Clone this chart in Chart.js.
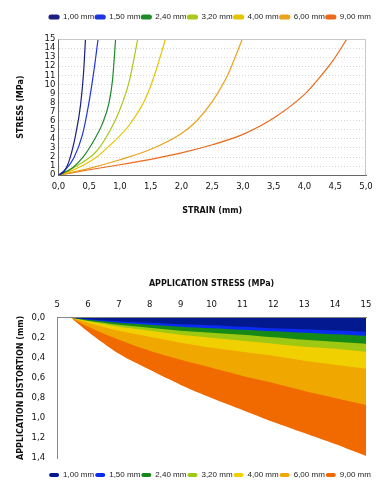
<!DOCTYPE html>
<html>
<head>
<meta charset="utf-8">
<script src="https://cdn.jsdelivr.net/npm/chart.js@4.4.1/dist/chart.umd.min.js"></script>
<style>
  body { margin: 0; background: #fff; width: 387px; height: 495px; overflow: hidden; }
  .box { position: absolute; left: 0; width: 387px; }
  #top { top: 0; height: 226px; }
  #bottom { top: 262px; height: 233px; }
</style>
</head>
<body>
<div class="box" id="top"><canvas id="strainChart"></canvas></div>
<div class="box" id="bottom"><canvas id="distortionChart"></canvas></div>
<script>
const thicknesses = ["1,00 mm", "1,50 mm", "2,40 mm", "3,20 mm", "4,00 mm", "6,00 mm", "9,00 mm"];
const lineColors = ["#1b1f7e", "#1f35e0", "#1e8a2a", "#a9c81a", "#e6c400", "#eba21c", "#ec6a1a"];
const areaColors = ["#03198f", "#0a2cf2", "#158a16", "#9fc812", "#f0d000", "#f0a800", "#f06a00"];

// top chart: stress (MPa) against strain (mm)
const strain100 = [0, 0.09, 0.17, 0.28, 0.36, 0.41, 0.44];
const stress100 = [0, 0.4, 1.5, 4.45, 7.75, 11.4, 15];
const strain150 = [0, 0.11, 0.25, 0.39, 0.49, 0.575, 0.645];
const stress150 = [0, 0.6, 1.9, 4.45, 7.75, 11.4, 15];
const strain240 = [0, 0.22, 0.39, 0.60, 0.71, 0.82, 0.88, 0.93];
const stress240 = [0, 0.77, 1.9, 4.1, 5.6, 7.9, 10.5, 15];
const strain320 = [0, 0.28, 0.60, 0.77, 0.98, 1.15, 1.29];
const stress320 = [0, 0.96, 2.5, 4.1, 6.9, 10.3, 15];
const strain400 = [0, 0.28, 0.60, 0.87, 1.15, 1.42, 1.58, 1.74];
const stress400 = [0, 0.7, 1.9, 3.5, 5.5, 8.5, 11.4, 15];
const strain600 = [0, 0.50, 1.00, 1.50, 2.00, 2.25, 2.50, 2.75, 2.99];
const stress600 = [0, 0.75, 1.7, 2.85, 4.6, 6.0, 8.1, 11.0, 15];
const strain900 = [0, 0.50, 1.00, 1.50, 2.00, 2.50, 3.00, 3.50, 4.00, 4.25, 4.45, 4.69];
const stress900 = [0, 0.6, 1.15, 1.75, 2.45, 3.35, 4.5, 6.3, 8.9, 10.8, 12.5, 15];

const strainSeries = [strain100, strain150, strain240, strain320, strain400, strain600, strain900];
const stressSeries = [stress100, stress150, stress240, stress320, stress400, stress600, stress900];

// bottom chart: application distortion (mm) against application stress (MPa)
const appStress = [5.45, 6, 7, 8, 9, 10, 11, 12, 13, 14, 15];
const dist100 = [0, 0.015, 0.035, 0.05, 0.065, 0.075, 0.09, 0.105, 0.115, 0.128, 0.14];
const dist150 = [0, 0.02, 0.05, 0.07, 0.09, 0.105, 0.12, 0.135, 0.15, 0.165, 0.18];
const dist240 = [0, 0.03, 0.07, 0.10, 0.13, 0.15, 0.17, 0.195, 0.22, 0.24, 0.26];
const dist320 = [0, 0.035, 0.09, 0.13, 0.17, 0.20, 0.23, 0.26, 0.29, 0.31, 0.34];
const dist400 = [0, 0.05, 0.13, 0.19, 0.25, 0.30, 0.34, 0.38, 0.43, 0.47, 0.51];
const dist600 = [0, 0.09, 0.22, 0.33, 0.42, 0.50, 0.58, 0.65, 0.73, 0.80, 0.87];
const dist900 = [0, 0.14, 0.36, 0.52, 0.67, 0.80, 0.92, 1.04, 1.15, 1.26, 1.38];
const distSeries = [dist100, dist150, dist240, dist320, dist400, dist600, dist900];

const stressTicks = [0, 1, 2, 3, 4, 5, 6, 7, 8, 9, 10, 11, 12, 13, 14, 15];
const distTicks = [0, 0.2, 0.4, 0.6, 0.8, 1.0, 1.2, 1.4];

const FONT = "'DejaVu Sans', Verdana, sans-serif";
Chart.defaults.font.family = FONT;
Chart.defaults.font.size = 8.5;
Chart.defaults.color = '#111';
Chart.defaults.animation = false;

const comma = (v, d) => Number(v).toFixed(d).replace('.', ',');

// thin grey frame on top and right of the plot area
const frame = {
    id: 'frame',
    afterDraw(chart, args, opts) {
        if (!opts.draw) return;
        const a = chart.chartArea, c = chart.ctx;
        c.save();
        c.strokeStyle = '#c8c8c8';
        c.lineWidth = 1;
        c.beginPath();
        c.moveTo(a.left, a.top + 0.5);
        c.lineTo(a.right - 0.5, a.top + 0.5);
        c.lineTo(a.right - 0.5, a.bottom);
        c.stroke();
        c.restore();
    }
};

// extra room around the legend, and nudge it sideways
const legendSpace = {
    id: 'legendSpace',
    beforeInit(chart, args, opts) {
        const legend = chart.legend;
        const fit = legend.fit;
        legend.fit = function() {
            fit.bind(legend)();
            this.height += opts.extra || 0;
        };
    },
    afterLayout(chart, args, opts) {
        const lg = chart.legend;
        if (opts.shift) {
            lg.top += opts.shift;
            lg.bottom += opts.shift;
        }
        if (opts.shiftX) {
            lg.left += opts.shiftX;
            lg.right += opts.shiftX;
        }
    }
};

const legendOpts = (position) => ({
    position: position,
    labels: {
        boxWidth: 10,
        boxHeight: 4,
        padding: 1,
        useBorderRadius: true,
        borderRadius: 2,
        font: { family: "'Liberation Sans', Arial, sans-serif", size: 8 },
        color: '#222'
    }
});

new Chart(document.getElementById('strainChart').getContext('2d'), {
    type: 'line',
    data: {
        datasets: thicknesses.map((t, i) => ({
            label: t,
            data: strainSeries[i].map((x, j) => ({ x: x, y: stressSeries[i][j] })),
            borderColor: lineColors[i],
            backgroundColor: lineColors[i],
            borderWidth: 1.2,
            pointRadius: 0,
            cubicInterpolationMode: 'monotone',
            fill: false
        }))
    },
    options: {
        responsive: true,
        maintainAspectRatio: false,
        layout: { padding: { top: 12, right: 21, left: 12, bottom: 6 } },
        plugins: {
            legend: legendOpts('top'),
            tooltip: { enabled: false },
            frame: { draw: true },
            legendSpace: { extra: 8, shiftX: 21 }
        },
        scales: {
            x: {
                type: 'linear',
                min: 0,
                max: 5,
                ticks: { stepSize: 0.5, callback: v => comma(v, 1), padding: 1, maxRotation: 0 },
                grid: { display: false, drawTicks: true, tickLength: 5 },
                border: { color: '#666' },
                title: { display: true, text: 'STRAIN (mm)', font: { weight: 'bold', size: 8 }, padding: { top: 14 } }
            },
            y: {
                min: 0,
                max: 15,
                afterBuildTicks: axis => { axis.ticks = stressTicks.map(v => ({ value: v })); },
                ticks: { autoSkip: false, padding: 3 },
                grid: { color: '#d4d4d4', drawTicks: false },
                border: { color: '#666', dash: [1, 2] },
                title: { display: true, text: 'STRESS (MPa)', font: { weight: 'bold', size: 8 }, padding: { bottom: 16 } }
            }
        }
    },
    plugins: [frame, legendSpace]
});

new Chart(document.getElementById('distortionChart').getContext('2d'), {
    type: 'line',
    data: {
        datasets: thicknesses.map((t, i) => ({
            label: t,
            data: appStress.map((x, j) => ({ x: x, y: distSeries[i][j] })),
            borderColor: areaColors[i],
            backgroundColor: areaColors[i],
            borderWidth: 0,
            pointRadius: 0,
            tension: 0.3,
            fill: 'origin'
        }))
    },
    options: {
        responsive: true,
        maintainAspectRatio: false,
        layout: { padding: { top: 13, right: 21, left: 12, bottom: 6 } },
        plugins: {
            legend: legendOpts('bottom'),
            tooltip: { enabled: false },
            frame: { draw: false },
            legendSpace: { extra: 12, shift: 12, shiftX: 21 }
        },
        scales: {
            x: {
                type: 'linear',
                position: 'top',
                min: 5,
                max: 15,
                ticks: { stepSize: 1, padding: 3, maxRotation: 0 },
                grid: { display: false, tickLength: 5 },
                border: { color: '#888' },
                title: { display: true, text: 'APPLICATION STRESS (MPa)', font: { weight: 'bold', size: 8 }, padding: { bottom: 8 } }
            },
            y: {
                reverse: true,
                min: 0,
                max: 1.4,
                afterBuildTicks: axis => { axis.ticks = distTicks.map(v => ({ value: v })); },
                ticks: { autoSkip: false, padding: 4, callback: v => comma(v, 1) },
                grid: { display: false },
                border: { color: '#888' },
                title: { display: true, text: 'APPLICATION DISTORTION (mm)', font: { weight: 'bold', size: 8 }, padding: { bottom: 2 } }
            }
        }
    },
    plugins: [legendSpace]
});
</script>
</body>
</html>
